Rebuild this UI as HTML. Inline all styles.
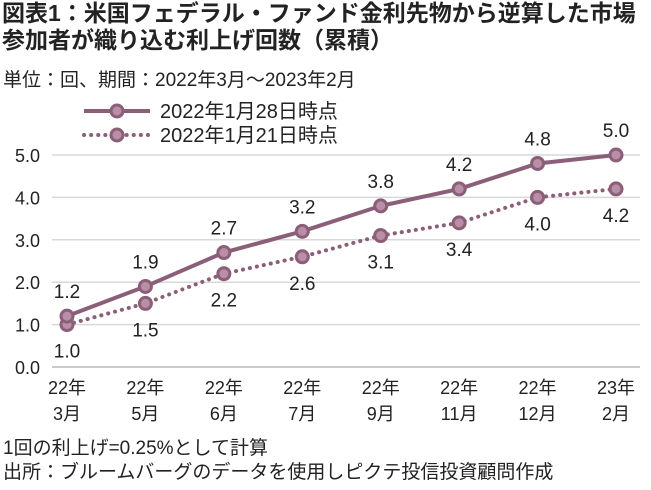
<!DOCTYPE html>
<html><head><meta charset="utf-8"><style>
body{margin:0;background:#fff;width:651px;height:490px;overflow:hidden;font-family:"Liberation Sans","Noto Sans CJK JP",sans-serif;color:#222}
.t{position:absolute;left:2px;font-weight:bold;font-size:23px;line-height:27px;letter-spacing:0px;white-space:nowrap}
.s{position:absolute;left:3px;font-size:19px;white-space:nowrap}
</style></head><body>
<div class="t" style="top:0px">図表1：米国フェデラル・ファンド金利先物から逆算した市場<br>参加者が織り込む利上げ回数（累積）</div>
<div class="s" style="top:65px">単位：回、期間：2022年3月～2023年2月</div>
<svg id="c" width="651" height="490" style="position:absolute;left:0;top:0"></svg>
<div class="s" style="top:433px">1回の利上げ=0.25%として計算</div>
<div class="s" style="top:457px">出所：ブルームバーグのデータを使用しピクテ投信投資顧問作成</div>
<script>
const cats1=["22年","22年","22年","22年","22年","22年","22年","23年"];
const cats2=["3月","5月","6月","7月","9月","11月","12月","2月"];
const s1=[1.2,1.9,2.7,3.2,3.8,4.2,4.8,5.0];
const s2=[1.0,1.5,2.2,2.6,3.1,3.4,4.0,4.2];
const yt=["0.0","1.0","2.0","3.0","4.0","5.0"];
const NS="http://www.w3.org/2000/svg",svg=document.getElementById('c');
const xs=i=>67+i*(616-67)/7, ys=v=>367-v*42.4;
const col="#8c5f79",fill="#b88fa6";
function el(t,a,p){const e=document.createElementNS(NS,t);for(const k in a)e.setAttribute(k,a[k]);(p||svg).appendChild(e);return e;}
yt.forEach((t,i)=>{const v=parseFloat(t);
 const g=el('line',{x1:52,x2:640,y1:ys(v),y2:ys(v),stroke:i==0?'#bbb':'#d8d8d8','stroke-width':1.5});
 
 
 const l=el('text',{x:40,y:ys(v)+7,'text-anchor':'end','font-size':18,fill:'#222'});l.textContent=t;
 
 });
cats1.forEach((c,i)=>{const a=el('text',{x:xs(i),y:394,'text-anchor':'middle','font-size':18,fill:'#222'});a.textContent=c;
 
 
 const b=el('text',{x:xs(i),y:420,'text-anchor':'middle','font-size':18,fill:'#222'});b.textContent=cats2[i];
 
 });
function series(d,dash,name,above){
 const p=el('polyline',{points:d.map((v,i)=>xs(i)+','+ys(v)).join(' '),fill:'none',stroke:col,'stroke-width':4,'stroke-dasharray':dash?'0.1 7':'none','stroke-linecap':dash?'round':'butt'});
 
 
 d.forEach((v,i)=>{const m=el('circle',{cx:xs(i),cy:ys(v),r:6,fill:fill,stroke:col,'stroke-width':3});
  
  
  const t=el('text',{x:xs(i),y:above?ys(v)-18:ys(v)+33,'text-anchor':'middle','font-size':19,fill:'#222'});t.textContent=v.toFixed(1);
  
  });
}
series(s2,true,'jan21-series',false);
series(s1,false,'jan28-series',true);
[[111,false,'2022年1月28日時点'],[135,true,'2022年1月21日時点']].forEach(([y,d,t])=>{
 const l=el('line',{x1:84,x2:150,y1:y,y2:y,stroke:col,'stroke-width':4,'stroke-dasharray':d?'0.1 7':'none','stroke-linecap':d?'round':'butt'});
 
 
 const c=el('circle',{cx:117,cy:y,r:6,fill:fill,stroke:col,'stroke-width':3});
 
 
 const tx=el('text',{x:160,y:y+7,'font-size':20,fill:'#222'});tx.textContent=t;
 
 });
</script>
</body></html>
